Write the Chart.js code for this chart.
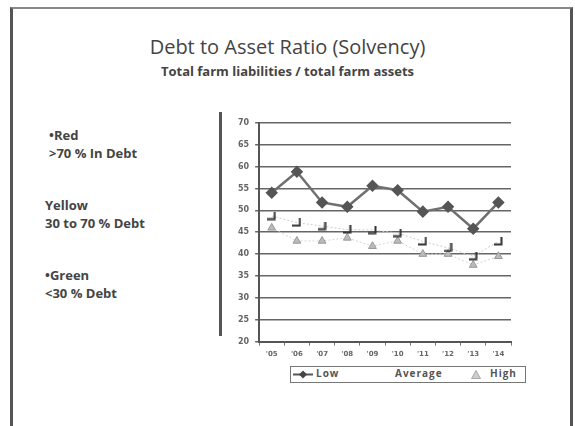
<!DOCTYPE html>
<html>
<head>
<meta charset="utf-8">
<script src="https://cdn.jsdelivr.net/npm/chart.js@4.4.1/dist/chart.umd.min.js"></script>
<style>
  body { margin: 0; background: #fff; font-family: 'Open Sans', sans-serif; }
  #slide { position: absolute; left: 10px; top: 7px; width: 557px; height: 430px;
    border-top: 2px solid #888; border-left: 3px solid #555; border-right: 3px solid #555; }
  .title { position: absolute; left: 0; width: 575px; top: 33px; text-align: center;
    font-size: 20px; color: #444; }
  .sub { position: absolute; left: 0; width: 575px; top: 62px; text-align: center;
    font-size: 13px; font-weight: bold; color: #444; }
  .side { position: absolute; font-size: 13px; font-weight: bold; color: #444; line-height: 18px; }
  #bar { position: absolute; left: 219px; top: 112px; width: 3px; height: 224px; background: #555; }
  #wrap { position: absolute; left: 200px; top: 112px; width: 335px; height: 254px; }
  #legend { position: absolute; left: 290px; top: 366px; width: 234px; height: 15px;
    border: 1px solid #777; font-size: 10px; font-weight: bold; color: #555; letter-spacing: 1px; }
  #legend span { position: absolute; top: -1px; }
  #legend canvas { position: absolute; top: 3px; }
</style>
</head>
<body>
<div id="slide"></div>
<div class="title">Debt to Asset Ratio (Solvency)</div>
<div class="sub">Total farm liabilities / total farm assets</div>
<div class="side" style="left:49px;top:126px">•Red<br>&gt;70 % In Debt</div>
<div class="side" style="left:45px;top:196px">Yellow<br>30 to 70 % Debt</div>
<div class="side" style="left:45px;top:266px">•Green<br>&lt;30 % Debt</div>
<div id="wrap"><canvas id="myChart"></canvas></div>
<div id="bar"></div>
<div id="legend"></div>
<script>
const years = ["'05", "'06", "'07", "'08", "'09", "'10", "'11", "'12", "'13", "'14"];
const low = [54, 58.8, 51.8, 50.8, 55.6, 54.6, 49.7, 50.8, 45.8, 51.8];
const average = [48.7, 47.2, 46.4, 45.6, 45.5, 44.8, 42.9, 41.4, 39.5, 42.9];
const high = [46, 43, 43, 43.7, 41.8, 43, 40, 40, 37.5, 39.5];
const yTicks = [20, 25, 30, 35, 40, 45, 50, 55, 60, 65, 70];

// little "┘" marker for the Average series
const cornerMark = document.createElement('canvas');
cornerMark.width = 9; cornerMark.height = 9;
(function() {
  const c = cornerMark.getContext('2d');
  c.strokeStyle = '#333';
  c.lineWidth = 2;
  c.beginPath();
  c.moveTo(0, 7.5); c.lineTo(7.5, 7.5); c.lineTo(7.5, 0);
  c.stroke();
})();

// legend icon for Low: line through a diamond
const lowIcon = document.createElement('canvas');
lowIcon.width = 20; lowIcon.height = 9;
(function() {
  const c = lowIcon.getContext('2d');
  c.strokeStyle = '#555'; c.lineWidth = 2;
  c.beginPath(); c.moveTo(0, 4.5); c.lineTo(20, 4.5); c.stroke();
  c.fillStyle = '#444';
  c.beginPath(); c.moveTo(10, 0.5); c.lineTo(14, 4.5); c.lineTo(10, 8.5); c.lineTo(6, 4.5); c.closePath(); c.fill();
})();

const highIcon = document.createElement('canvas');
highIcon.width = 10; highIcon.height = 9;
(function() {
  const c = highIcon.getContext('2d');
  c.fillStyle = '#ccc'; c.strokeStyle = '#aaa';
  c.beginPath(); c.moveTo(5, 0.5); c.lineTo(9.5, 8.5); c.lineTo(0.5, 8.5); c.closePath(); c.fill(); c.stroke();
})();

// legend laid out like the slide's: icon/text positions inside the box
const legendEl = document.getElementById('legend');
[[lowIcon, 2], ['Low', 25], ['Average', 104], [highIcon, 180], ['High', 199]].forEach(([item, x]) => {
  let el = item;
  if (typeof item === 'string') {
    el = document.createElement('span');
    el.textContent = item;
  }
  el.style.left = x + 'px';
  legendEl.appendChild(el);
});

const ctx = document.getElementById('myChart').getContext('2d');
const myChart = new Chart(ctx, {
  type: 'line',
  data: {
    labels: years,
    datasets: [
      {
        label: 'Low',
        data: low,
        borderColor: '#707070',
        backgroundColor: '#555',
        borderWidth: 2.5,
        pointStyle: 'rectRot',
        pointRadius: 4.5,
        pointBorderColor: '#555',
        pointBackgroundColor: '#555'
      },
      {
        label: 'Average',
        data: average,
        borderColor: '#ccc',
        borderWidth: 1,
        borderDash: [2, 2],
        pointStyle: cornerMark,
      },
      {
        label: 'High',
        data: high,
        borderColor: '#d4d4d4',
        borderWidth: 1,
        borderDash: [2, 2],
        pointStyle: 'triangle',
        pointRadius: 4.5,
        pointBackgroundColor: '#bbb',
        pointBorderColor: '#999',
        pointBorderWidth: 1
      }
    ]
  },
  options: {
    responsive: true,
    maintainAspectRatio: false,
    animation: false,
    layout: { padding: { left: 32, right: 24, top: 8, bottom: 4 } },
    plugins: {
      tooltip: { enabled: false },
      legend: { display: false }
    },
    scales: {
      x: {
        offset: true,
        grid: { display: true, drawOnChartArea: false, offset: true, color: '#777', tickLength: 4 },
        border: { color: '#555', width: 2 },
        ticks: { color: '#666', font: { family: 'DejaVu Sans', size: 7, weight: 'bold' }, padding: 4 }
      },
      y: {
        min: 20,
        max: 70,
        afterBuildTicks(axis) { axis.ticks = yTicks.map(v => ({ value: v })); },
        grid: { color: '#666', lineWidth: 1.5, tickLength: 4 },
        border: { color: '#555', width: 2 },
        ticks: { color: '#666', font: { family: 'DejaVu Sans', size: 8, weight: 'bold' }, padding: 6 }
      }
    }
  }
});
</script>
</body>
</html>
